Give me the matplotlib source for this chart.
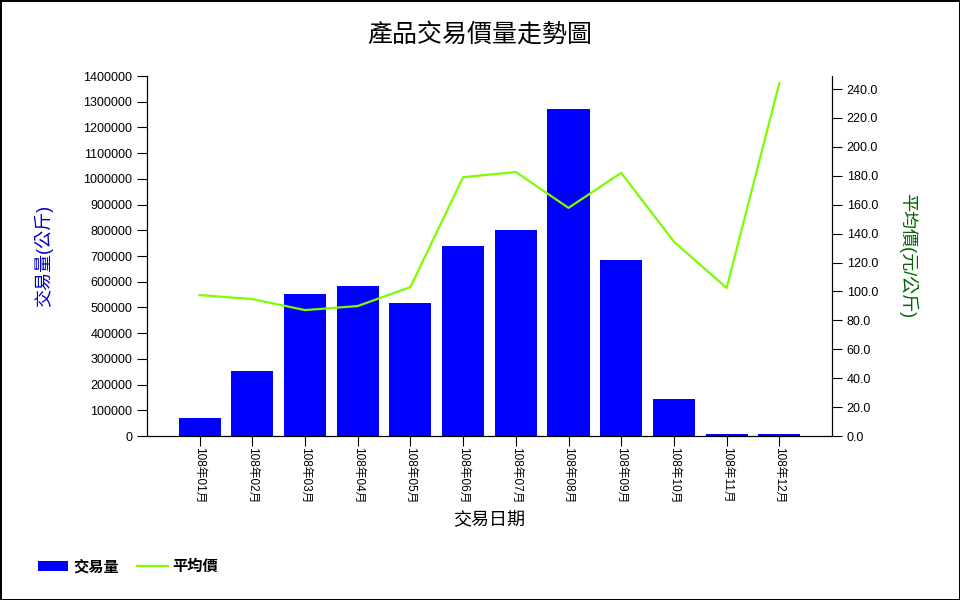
import matplotlib.pyplot as plt
import numpy as np
from matplotlib.lines import Line2D
from matplotlib.patches import Patch

plt.rcParams["font.family"] = ["Liberation Sans", "Noto Sans CJK TC", "DejaVu Sans"]

months = ["108年01月", "108年02月", "108年03月", "108年04月", "108年05月", "108年06月",
          "108年07月", "108年08月", "108年09月", "108年10月", "108年11月", "108年12月"]
volume_kg = [72000, 253000, 552000, 583000, 517000, 739000,
             801000, 1272000, 684000, 144000, 8000, 8000]
avg_price = [97.5, 94.7, 87.1, 89.9, 103.0, 179.0,
             182.6, 157.8, 182.0, 134.4, 102.4, 244.0]

fig = plt.figure(figsize=(9.6, 6.0), dpi=100)
fig.patch.set_edgecolor("black")
fig.patch.set_linewidth(1.0)

ax = fig.add_axes([0.153, 0.2733, 0.7137, 0.6])
x = np.arange(len(months))
ax.bar(x, volume_kg, width=0.8, color="#0000FF")
ax.set_xlim(-1, len(months))
ax.set_ylim(0, 1400000)
ax.set_yticks(np.arange(0, 1400001, 100000))
ax.set_yticklabels([f"{v:d}" for v in range(0, 1400001, 100000)])
ax.set_xticks(x)
ax.set_xticklabels(months, rotation=-90, fontsize=8.5)
ax.tick_params(axis="y", labelsize=9, length=7, direction="out")
ax.tick_params(axis="x", length=7, direction="out", pad=1)
ax.spines["top"].set_visible(False)
ax.set_ylabel("交易量(公斤)", color="#0000CC", fontsize=13, labelpad=22)
ax.set_xlabel("交易日期", fontsize=13, labelpad=6)

ax2 = ax.twinx()
ax2.plot(x, avg_price, color="#7CFC00", linewidth=1.6)
ax2.set_ylim(0, 249)
ax2.set_yticks(np.arange(0, 241, 20))
ax2.set_yticklabels([f"{v:.1f}" for v in range(0, 241, 20)])
ax2.tick_params(axis="y", labelsize=9, length=7, direction="out")
ax2.spines["top"].set_visible(False)
ax2.set_ylabel("平均價(元/公斤)", color="#006400", fontsize=13, rotation=-90, labelpad=28)

fig.suptitle("產品交易價量走勢圖", fontsize=18, y=0.962)

handles = [Patch(facecolor="#0000FF"), Line2D([0], [0], color="#7CFC00", linewidth=1.6)]
leg = fig.legend(handles, ["交易量", "平均價"], loc="lower left", ncol=2,
                 bbox_to_anchor=(0.025, 0.02), frameon=False, handlelength=2.0,
                 columnspacing=1.2, handletextpad=0.3, prop={"size": 11, "weight": "bold"})

fig.savefig("out.png", dpi=100, edgecolor=fig.get_edgecolor())
